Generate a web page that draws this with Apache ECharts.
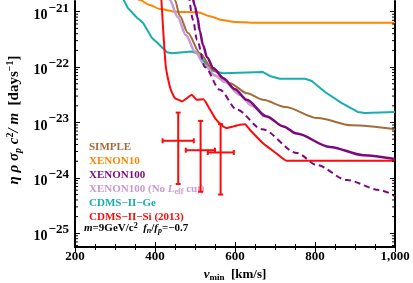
<!DOCTYPE html>
<html><head><meta charset="utf-8">
<script src="https://cdn.jsdelivr.net/npm/echarts@6/dist/echarts.min.js"></script>
<style>html,body{margin:0;padding:0;background:#fff}#c{width:413px;height:283px}</style>
</head><body><div id="c"></div>
<script>
// ---- data ----
const xenon10V = [345, 362, 387, 412, 450, 507, 537, 567, 600, 662, 1000];
const xenon10Y = [2.09e-21, 1.62e-21, 1.32e-21, 1.12e-21, 1.0e-21, 9.8e-22, 8.3e-22, 7.1e-22, 6.5e-22, 6.3e-22, 6.3e-22];

const geV = [318, 322, 332, 355, 370, 392, 407, 430, 442, 492, 505, 520, 537, 570, 670, 687, 712, 775, 792, 825, 867, 907, 925, 1000];
const geY = [1.91e-21, 1.62e-21, 1.17e-21, 7.76e-22, 6.31e-22, 3.39e-22, 2.69e-22, 1.86e-22, 1.78e-22, 1.91e-22, 1.78e-22, 1.35e-22, 8.9e-23, 7.76e-23, 8.13e-23, 6.92e-23, 6.17e-23, 6.17e-23, 5.62e-23, 3.55e-23, 2.24e-23, 1.55e-23, 1.48e-23, 1.55e-23];

const siV = [414, 416, 421, 427, 437, 443, 450, 462, 467, 480, 492, 504, 521, 533, 550, 567, 579, 596, 612, 625, 637, 671, 704, 729, 1000];
const siY = [2.51e-21, 1.62e-21, 4.07e-22, 1.02e-22, 4.47e-23, 3.39e-23, 2.75e-23, 2.51e-23, 2.40e-23, 2.75e-23, 3.16e-23, 2.57e-23, 2.63e-23, 1.95e-23, 1.20e-23, 8.91e-24, 7.94e-24, 8.51e-24, 9.12e-24, 9.33e-24, 7.41e-24, 4.17e-24, 2.75e-24, 2.04e-24, 2.04e-24];

const simpleV = [445, 450, 462, 482, 512, 545, 587, 630, 670, 725, 807, 892, 1000];
const simpleY = [2.24e-21, 1.62e-21, 8.32e-22, 4.17e-22, 1.78e-22, 8.91e-23, 5.13e-23, 3.39e-23, 2.57e-23, 1.91e-23, 1.20e-23, 8.91e-24, 7.59e-24];

const x100V = [492, 500, 506, 512, 520, 530, 546, 571, 600, 629, 679, 721, 754, 837, 921, 1000];
const x100Y = [2.24e-21, 1.26e-21, 7.94e-22, 4.47e-22, 2.51e-22, 1.51e-22, 9.55e-23, 6.31e-23, 3.98e-23, 2.57e-23, 1.29e-23, 8.51e-24, 6.31e-24, 3.63e-24, 2.57e-24, 2.19e-24];

const x100DashV = [485, 495, 505, 525, 562, 605, 667, 755, 805, 880, 962, 1000];
const x100DashY = [2.0e-21, 7.08e-22, 3.09e-22, 1.0e-22, 3.89e-23, 1.70e-23, 7.59e-24, 2.82e-24, 1.70e-24, 9.12e-25, 6.03e-25, 4.68e-25];

const x100NoLeffV = [428, 437, 457, 477, 500, 525, 550, 575, 612, 642, 672];
const x100NoLeffY = [2.51e-21, 1.62e-21, 7.94e-22, 3.80e-22, 1.91e-22, 1.07e-22, 7.08e-23, 5.37e-23, 3.16e-23, 2.0e-23, 1.26e-23];

// error-bar points: v, y, v-low, v-high, y-low, y-high
const errV = [458, 514, 564];
const errY = [4.68e-24, 3.16e-24, 2.88e-24];
const errVLow = [419, 477, 532];
const errVHigh = [497, 550, 597];
const errYLow = [7.76e-25, 5.62e-25, 5.01e-25];
const errYHigh = [1.51e-23, 1.07e-23, 9.33e-24];

const legendNames = ['SIMPLE', 'XENON10', 'XENON100', 'XENON100 (No Leff cut)', 'CDMS\u2212II\u2212Ge', 'CDMS\u2212II\u2212Si (2013)'];
const minorMultipliers = [2, 3, 4, 5, 6, 7, 8, 9];
const decades = [1e-26, 1e-25, 1e-24, 1e-23, 1e-22, 1e-21];

// ---- styling ----
const FONT = 'Liberation Serif';
const C = {
  simple: '#a26b3b', xenon10: '#ff8400', xenon100: '#7d0a7d', noleff: '#c99ad0', ge: '#17aeae', si: '#ff0a0a'
};
const XMIN = 200, XMAX = 1000;
const YMIN = 5.66e-26, YMAX = 1.56e-21;

const zip = (a, b) => a.map((v, i) => [v, b[i]]);
const minorVals = [];
decades.forEach(d => minorMultipliers.forEach(m => minorVals.push([XMIN, m * d])));

function yLabel(val) {
  const v = typeof val === 'object' && val !== null ? val.value : val;
  if (!(v > 0) || !isFinite(v)) return '';
  const e = Math.log10(v);
  const r = Math.round(e);
  if (!isFinite(r) || Math.abs(e - r) > 0.01) return '';
  return '{b|10}{s|\u2212' + (-r) + '}';
}

const chart = echarts.init(document.getElementById('c'), null, {renderer: 'canvas'});
const lineBase = {type: 'line', showSymbol: false, symbol: 'none', xAxisIndex: 0, yAxisIndex: 0, clip: true};

chart.setOption({
  animation: false,
  backgroundColor: '#fff',
  grid: {left: 75, right: 18, top: 1, bottom: 36, outerBoundsMode: 'none'},
  legend: {
    data: [
      {name: legendNames[0], textStyle: {color: C.simple}},
      {name: legendNames[1], textStyle: {color: C.xenon10}},
      {name: legendNames[2], textStyle: {color: C.xenon100}},
      {name: legendNames[3], textStyle: {color: C.noleff}},
      {name: legendNames[4], textStyle: {color: C.ge}},
      {name: legendNames[5], textStyle: {color: C.si}}
    ],
    orient: 'vertical', left: 79, top: 135, itemWidth: 0, itemHeight: 14, itemGap: 0,
    icon: 'rect', itemStyle: {opacity: 0}, selectedMode: false,
    formatter: n => n === legendNames[3] ? 'XENON100 (No {i|L}{sub|eff} cut)' : n,
    textStyle: {fontFamily: FONT, fontWeight: 'bold', fontSize: 11, lineHeight: 14,
      rich: {i: {fontFamily: FONT, fontWeight: 'bold', fontStyle: 'italic', fontSize: 11},
             sub: {fontFamily: FONT, fontWeight: 'bold', fontSize: 8, padding: [5, 0, 0, 0]}}}
  },
  xAxis: [{
    type: 'value', min: XMIN, max: XMAX, interval: 200, position: 'bottom',
    name: '{i|v}{sub|min}  [km/s]', nameLocation: 'middle', nameGap: 15,
    nameTextStyle: {fontFamily: FONT, fontWeight: 'bold', fontSize: 13, color: '#000',
      rich: {i: {fontFamily: FONT, fontStyle: 'italic', fontWeight: 'bold', fontSize: 13},
             sub: {fontFamily: FONT, fontWeight: 'bold', fontSize: 9, padding: [6, 0, 0, 0]}}},
    axisLine: {lineStyle: {color: '#000', width: 2}},
    axisTick: {inside: true, length: 5, lineStyle: {color: '#000', width: 1}},
    minorTick: {show: true, splitNumber: 4, length: 3, lineStyle: {color: '#000', width: 1}},
    axisLabel: {margin: 3, color: '#000', fontFamily: FONT, fontWeight: 'bold', fontSize: 13},
    splitLine: {show: false}
  }, {
    type: 'value', min: XMIN, max: XMAX, interval: 200, position: 'top',
    axisLine: {lineStyle: {color: '#000', width: 2}},
    axisTick: {inside: true, length: 5, lineStyle: {color: '#000', width: 1}},
    minorTick: {show: true, splitNumber: 4, length: 3, lineStyle: {color: '#000', width: 1}},
    axisLabel: {show: false}, splitLine: {show: false}
  }],
  yAxis: [{
    type: 'log', logBase: 10, min: YMIN, max: YMAX, position: 'left',
    axisLine: {lineStyle: {color: '#000', width: 2}},
    axisTick: {inside: true, length: 5, lineStyle: {color: '#000', width: 1}},
    axisLabel: {margin: 6, color: '#000', formatter: yLabel,
      rich: {b: {fontFamily: FONT, fontWeight: 'bold', fontSize: 14, padding: [7, 0, 0, 0]},
             s: {fontFamily: FONT, fontWeight: 'bold', fontSize: 13, padding: [0, 0, 7, 1]}}},
    splitLine: {show: false}
  }, {
    type: 'log', logBase: 10, min: YMIN, max: YMAX, position: 'right',
    axisLine: {lineStyle: {color: '#000', width: 2}},
    axisTick: {inside: true, length: 5, lineStyle: {color: '#000', width: 1}},
    axisLabel: {show: false}, splitLine: {show: false}
  }],
  series: [
    {...lineBase, name: legendNames[4], data: zip(geV, geY), lineStyle: {color: C.ge, width: 2}, itemStyle: {color: C.ge}},
    {...lineBase, name: legendNames[1], data: zip(xenon10V, xenon10Y), smooth: 0.3, smoothMonotone: 'x', lineStyle: {color: C.xenon10, width: 2}, itemStyle: {color: C.xenon10}},
    {...lineBase, name: legendNames[0], data: zip(simpleV, simpleY), smooth: 0.3, smoothMonotone: 'x', lineStyle: {color: C.simple, width: 2}, itemStyle: {color: C.simple}},
    {...lineBase, name: legendNames[3], data: zip(x100NoLeffV, x100NoLeffY), smooth: 0.3, smoothMonotone: 'x', lineStyle: {color: C.noleff, width: 2.5}, itemStyle: {color: C.noleff}},
    {...lineBase, name: 'XENON100 dashed', data: zip(x100DashV, x100DashY), smooth: 0.3, smoothMonotone: 'x', lineStyle: {color: C.xenon100, width: 2, type: [6, 4]}, itemStyle: {color: C.xenon100}},
    {...lineBase, name: legendNames[2], data: zip(x100V, x100Y), smooth: 0.3, smoothMonotone: 'x', lineStyle: {color: C.xenon100, width: 2.5}, itemStyle: {color: C.xenon100}},
    {...lineBase, name: legendNames[5], data: zip(siV, siY), smooth: 0.15, lineStyle: {color: C.si, width: 2}, itemStyle: {color: C.si}},
    {
      type: 'custom', name: 'errbars', xAxisIndex: 0, yAxisIndex: 0, z: 5,
      data: errV.map((v, i) => [v, errY[i], errVLow[i], errVHigh[i], errYLow[i], errYHigh[i]]),
      renderItem: (params, api) => {
        const c = api.coord([api.value(0), api.value(1)]);
        const l = api.coord([api.value(2), api.value(1)]);
        const r = api.coord([api.value(3), api.value(1)]);
        const b = api.coord([api.value(0), api.value(4)]);
        const t = api.coord([api.value(0), api.value(5)]);
        const st = {stroke: C.si, lineWidth: 2};
        const cap = 2.5;
        const L = (x1, y1, x2, y2) => ({type: 'line', shape: {x1, y1, x2, y2}, style: st});
        return {type: 'group', children: [
          L(l[0], c[1], r[0], c[1]), L(c[0], t[1], c[0], b[1]),
          L(l[0], c[1] - cap, l[0], c[1] + cap), L(r[0], c[1] - cap, r[0], c[1] + cap),
          L(c[0] - cap, t[1], c[0] + cap, t[1]), L(c[0] - cap, b[1], c[0] + cap, b[1])
        ]};
      }
    },
    {
      type: 'custom', name: 'minorYTicks', xAxisIndex: 0, yAxisIndex: 0, silent: true, z: 6,
      data: minorVals,
      renderItem: (params, api) => {
        const v = api.value(1);
        if (v <= YMIN || v >= YMAX) return null;
        const pl = api.coord([XMIN, v]);
        const pr = api.coord([XMAX, v]);
        const st = {stroke: '#000', lineWidth: 1};
        return {type: 'group', children: [
          {type: 'line', shape: {x1: pl[0], y1: pl[1], x2: pl[0] + 3, y2: pl[1]}, style: st},
          {type: 'line', shape: {x1: pr[0] - 3, y1: pr[1], x2: pr[0], y2: pr[1]}, style: st}
        ]};
      }
    }
  ],
  graphic: [{
    type: 'text', left: 84, top: 222,
    style: {
      text: '{i|m}=9GeV/c{sup|2}  {i|f}{sub|n}/{i|f}{sub|p}=\u22120.7',
      fill: '#000', font: 'bold 11px "Liberation Serif"',
      rich: {i: {fontFamily: FONT, fontStyle: 'italic', fontWeight: 'bold', fontSize: 11, fill: '#000'},
             sup: {fontFamily: FONT, fontWeight: 'bold', fontSize: 8, padding: [0, 0, 5, 0], fill: '#000'},
             sub: {fontFamily: FONT, fontStyle: 'italic', fontWeight: 'bold', fontSize: 8, padding: [5, 0, 0, 0], fill: '#000'}}
    }
  }, {
    type: 'text', x: 14, y: 120, rotation: Math.PI / 2,
    style: {
      text: '{i|\u03b7 \u03c1 \u03c3}{sub|p}{i| c}{sup|2}{i|/ m}  [days{sup|\u22121}]',
      align: 'center', verticalAlign: 'middle', fill: '#000',
      font: 'bold 15px "Liberation Serif"',
      rich: {i: {fontFamily: FONT, fontStyle: 'italic', fontWeight: 'bold', fontSize: 15, fill: '#000'},
             sub: {fontFamily: FONT, fontStyle: 'italic', fontWeight: 'bold', fontSize: 10, padding: [8, 0, 0, 0], fill: '#000'},
             sup: {fontFamily: FONT, fontWeight: 'bold', fontSize: 10, padding: [0, 0, 8, 0], fill: '#000'}}
    }
  }]
});
</script>
</body></html>
